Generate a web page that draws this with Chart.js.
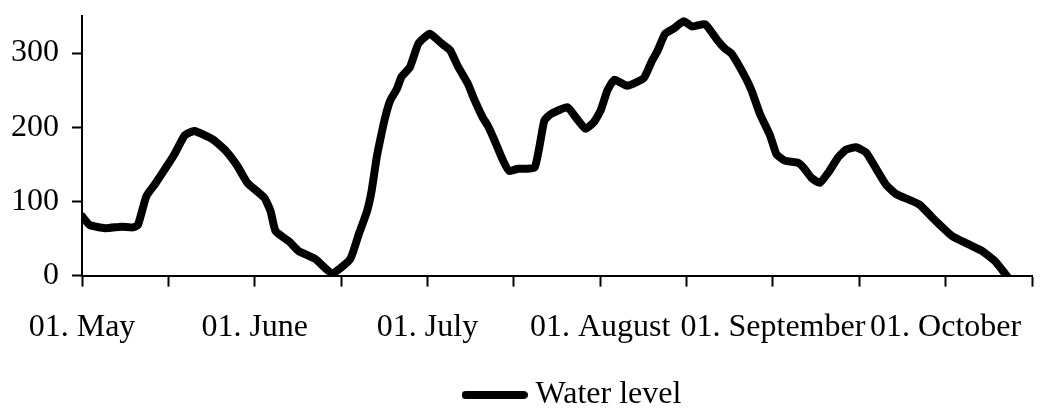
<!DOCTYPE html>
<html>
<head>
<meta charset="utf-8">
<script src="https://cdn.jsdelivr.net/npm/chart.js@4.4.1/dist/chart.umd.min.js"></script>
<style>
    html, body { margin: 0; padding: 0; background: #fff; }
    .chart-box { width: 1054px; height: 409px; }
</style>
</head>
<body>
<div class="chart-box"><canvas id="levelChart"></canvas></div>
<script>
// days counted from 01. May
const days = [0, 1.4, 4.1, 7.0, 9.0, 9.9, 11.4, 12.9, 14.9, 16.4, 18.2, 19.9, 23.1, 25.5, 27.5, 29.3,
    32.3, 33.4, 34.3, 36.7, 38.4, 41.4, 44.3, 47.5, 49.0, 50.5, 51.3, 52.2, 52.8, 53.7, 54.6, 55.8,
    56.6, 58.1, 59.6, 61.6, 63.7, 65.2, 66.6, 68.4, 69.3, 71.0, 71.9, 73.1, 74.6, 75.7, 77.2, 80.2,
    81.9, 83.1, 86.0, 87.5, 89.2, 90.7, 91.9, 93.1, 94.3, 96.6, 99.5, 101.0, 101.9, 103.3, 104.8,
    106.6, 108.1, 110.4, 112.5, 113.9, 115.1, 117.2, 118.6, 120.1, 121.9, 123.0, 124.5, 126.9,
    128.0, 129.2, 130.7, 132.4, 133.9, 135.4, 137.1, 138.9, 140.7, 142.4, 144.2, 148.3, 151.2,
    154.2, 157.1, 159.5, 161.8, 163.8];
const waterLevel = [80, 68, 64, 66, 65, 68, 107, 123, 146, 164, 189, 195, 184, 168, 148, 125,
    105, 87, 60, 46, 33, 22, 3, 22, 55, 87, 114, 159, 182, 213, 236, 252,
    268, 281, 313, 326, 313, 304, 282, 258, 241, 213, 202, 182, 155, 141, 144, 146,
    209, 218, 227, 213, 198, 207, 223, 250, 264, 256, 266, 290, 302, 326, 333,
    343, 336, 339, 318, 306, 299, 272, 250, 218, 189, 164, 155, 152,
    144, 132, 125, 141, 159, 170, 173, 166, 144, 123, 110, 96, 74,
    53, 42, 33, 19, 0];

const xTickDays = [0, 15.3, 30.6, 45.9, 61.2, 76.5, 91.8, 107.1, 122.4, 137.7, 153, 168.3];
const xTickLabels = ['01. May', '', '01. June', '', '01. July', '', '01. August', '',
    '01. September', '', '01. October', ''];
const yTicks = [0, 100, 200, 300];
const yMax = 350;

const font = { family: "'Liberation Serif', 'Times New Roman', serif", size: 32 };
Chart.defaults.color = '#000';
Chart.defaults.font = font;

// legend sample: a thick rounded line, a bit wider than the legend box
function legendLine() {
    const c = document.createElement('canvas');
    c.width = 66; c.height = 8;
    const g = c.getContext('2d');
    g.strokeStyle = '#000';
    g.lineWidth = 8;
    g.lineCap = 'round';
    g.beginPath();
    g.moveTo(4, 4);
    g.lineTo(62, 4);
    g.stroke();
    return c;
}

// nudge the legend to where the original sits
const legendShift = { x: 57, y: 12 };
const legendMover = {
    id: 'legendMover',
    afterLayout(chart) {
        const lg = chart.legend;
        if (!lg) return;
        lg.left += legendShift.x; lg.right += legendShift.x;
        lg.top += legendShift.y; lg.bottom += legendShift.y;
    }
};

const ctx = document.getElementById('levelChart');
new Chart(ctx, {
    type: 'line',
    data: {
        datasets: [{
            label: 'Water level',
            data: days.map((d, i) => ({ x: d, y: waterLevel[i] })),
            borderColor: '#000',
            backgroundColor: '#000',
            borderWidth: 8,
            pointRadius: 0,
            tension: 0.15,
            borderJoinStyle: 'round',
            borderCapStyle: 'round',
        }]
    },
    options: {
        responsive: true,
        maintainAspectRatio: false,
        animation: false,
        layout: { padding: { top: 16, right: 17, bottom: 0, left: 0 } },
        plugins: {
            tooltip: { enabled: false },
            legend: {
                position: 'bottom',
                labels: {
                    padding: 0,
                    usePointStyle: true,
                    pointStyleWidth: 50,
                    font,
                    generateLabels: () => [{
                        text: 'Water level',
                        fillStyle: '#000',
                        strokeStyle: '#000',
                        lineWidth: 0,
                        pointStyle: legendLine(),
                        datasetIndex: 0,
                    }]
                }
            }
        },
        scales: {
            x: {
                type: 'linear',
                min: 0,
                max: xTickDays[xTickDays.length - 1],
                afterBuildTicks: axis => { axis.ticks = xTickDays.map(v => ({ value: v })); },
                afterFit: axis => { axis.height = 91.4; },
                ticks: {
                    autoSkip: false,
                    maxRotation: 0,
                    padding: 22,
                    font,
                    callback: (v, i) => xTickLabels[i],
                },
                grid: { drawOnChartArea: false, drawTicks: true, tickLength: 11, tickWidth: 2, color: '#000' },
                border: { color: '#000', width: 2 },
            },
            y: {
                min: 0,
                max: yMax,
                afterBuildTicks: axis => { axis.ticks = yTicks.map(v => ({ value: v })); },
                afterFit: axis => {
                    axis.width = 82;
                    axis.paddingTop = 0;
                    axis.paddingBottom = 0;
                },
                ticks: { padding: 13, font },
                grid: { drawOnChartArea: false, drawTicks: true, tickLength: 10, tickWidth: 2, color: '#000' },
                border: { color: '#000', width: 2 },
            }
        }
    },
    plugins: [legendMover]
});
</script>
</body>
</html>
